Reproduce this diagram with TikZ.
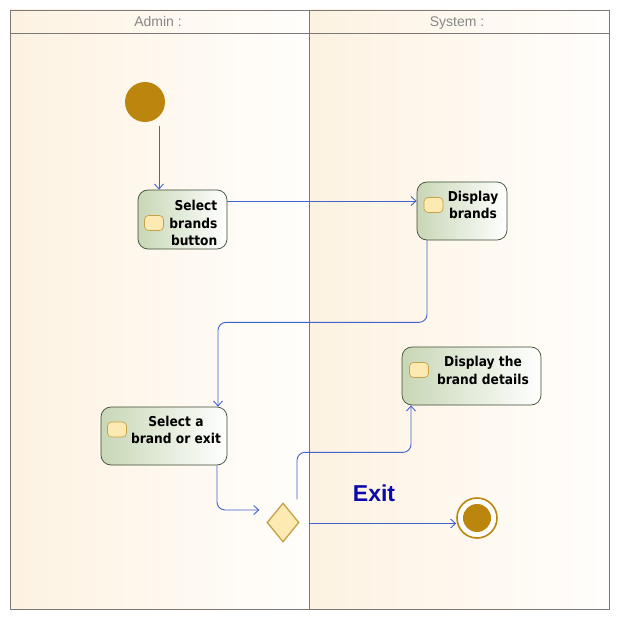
\documentclass[tikz,border=0pt]{standalone}
\usepackage{fontspec}
\setmainfont{Liberation Sans}
\newfontfamily\nodefont{DejaVu Sans}[FakeStretch=0.9]
\usetikzlibrary{arrows.meta,shapes.geometric}
\definecolor{goldc}{RGB}{187,133,14}
\definecolor{laneL}{RGB}{253,242,225}
\definecolor{laneR}{RGB}{255,254,252}
\definecolor{actL}{RGB}{200,215,182}
\definecolor{actB}{RGB}{62,76,50}
\definecolor{flowc}{RGB}{66,98,204}
\definecolor{lanec}{RGB}{125,120,120}
\definecolor{hdrc}{RGB}{135,135,135}
\definecolor{iconF}{RGB}{253,233,178}
\definecolor{iconB}{RGB}{200,160,70}
\definecolor{exitc}{RGB}{10,10,170}
\tikzset{
  lanebox/.style={draw=lanec, line width=0.8pt},
  hdr/.style={text=hdrc, font=\fontsize{14}{15}\selectfont, inner sep=0pt, anchor=base},
  actbox/.style={draw=actB, line width=0.7pt, rounded corners=10pt, left color=actL, right color=white, inner sep=0pt},
  acttext/.style={font=\nodefont\bfseries\fontsize{13.6}{17.5}\selectfont, inner sep=0pt},
  iconbox/.style={draw=iconB, fill=iconF, line width=0.7pt, rounded corners=4pt, minimum width=19pt, minimum height=15pt, inner sep=0pt},
  flow/.style={draw=flowc, line width=0.9pt, -{Straight Barb[length=5pt,width=9pt]}},
}
\begin{document}
\begin{tikzpicture}[x=1pt,y=-1pt]
\useasboundingbox (0,0) rectangle (620,620);
\fill[white] (0,0) rectangle (620,620);
% lanes
\shade[left color=laneL, right color=laneR] (10,10) rectangle (309,609);
\shade[left color=laneL, right color=laneR] (309,10) rectangle (609,609);
\draw[lanebox] (10,10) rectangle (609,609);
\draw[lanebox] (10,33) -- (609,33);
\draw[lanebox] (309,10) -- (309,609);
\node[hdr] (hA) at (158,26.5) {Admin :};
\node[hdr] (hS) at (457,26.5) {System :};
% start
\node[circle, fill=goldc, minimum size=40pt, inner sep=0pt] (start) at (145,102) {};
% actions
\node[actbox, minimum width=89pt, minimum height=59pt] (sel) at (182.5,219.5) {};
\node[iconbox] (selI) at (154,223) {};
\node[acttext, align=right, anchor=east] (selT) at (217.5,223) {Select\\brands\\button};

\node[actbox, minimum width=90pt, minimum height=58pt] (disp) at (462,211) {};
\node[iconbox] (dispI) at (433.5,205) {};
\node[acttext, align=center] (dispT) at (473,205) {Display\\brands};

\node[actbox, minimum width=126pt, minimum height=58pt] (selb) at (164,436) {};
\node[iconbox] (selbI) at (117,429.5) {};
\node[acttext, align=center] (selbT) at (176,430) {Select a\\brand or exit};

\node[actbox, minimum width=139pt, minimum height=58pt] (det) at (471.5,376) {};
\node[iconbox] (detI) at (419,370) {};
\node[acttext, align=center] (detT) at (483,370.5) {Display the\\brand details};

% decision
\node[diamond, draw=iconB, fill=iconF, line width=1.3pt, minimum width=32pt, minimum height=39pt, inner sep=0pt] (dec) at (283,522.5) {};
% final
\node[circle, draw=goldc, fill=white, line width=1.6pt, minimum size=40pt, inner sep=0pt] (fin) at (477,518) {};
\node[circle, fill=goldc, minimum size=28pt, inner sep=0pt] (finI) at (fin) {};
% exit label
\node[font=\bfseries\fontsize{23}{26}\selectfont, text=exitc, inner sep=0pt] (exitT) at (374,493) {Exit};

% connectors
\draw[flow] ([shift={(14,4)}]start.south) -- ([xshift=-23.5pt]sel.north);
\draw[flow] ([yshift=18.5pt]sel.east) coordinate (a1) -- (a1 -| disp.west);
\draw[flow, rounded corners=8pt] ([xshift=-35pt]disp.south) -- ++(0,82) -| ([xshift=54pt]selb.north);
\draw[flow, rounded corners=8pt] ([xshift=53pt]selb.south) |- ([shift={(-7,-12.5)}]dec.west);
\draw[flow, rounded corners=8pt] ([shift={(14,-3)}]dec.north) -- ++(0,-47) -| ([xshift=-60.5pt]det.south);
\draw[flow] ([shift={(9,1)}]dec.east) coordinate (a2) -- (a2 -| fin.west);
\end{tikzpicture}
\end{document}
